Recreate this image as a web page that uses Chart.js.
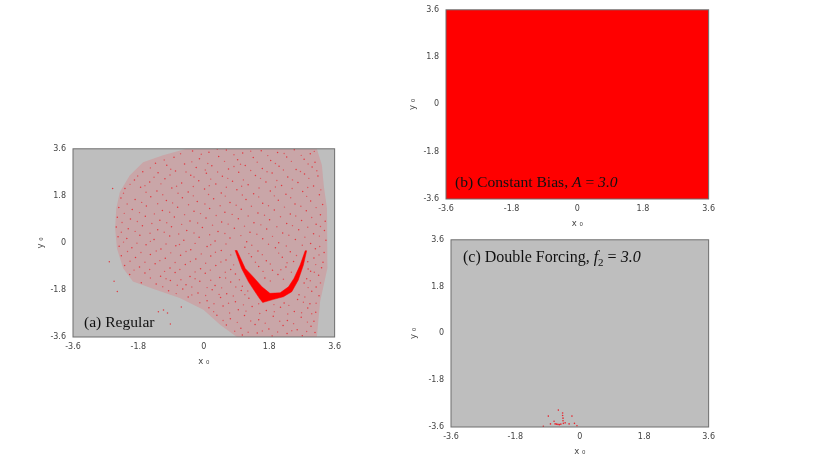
<!DOCTYPE html>
<html>
<head>
<meta charset="utf-8">
<script src="https://cdn.jsdelivr.net/npm/chart.js@4"></script>
<style>
  body { margin: 0; background: #fff; width: 830px; height: 467px; overflow: hidden; position: relative; }
  .box { position: absolute; }
  .tag { position: absolute; font: 15.6px "Liberation Serif", serif; color: #111; white-space: nowrap; line-height: 18px; }
  .tag sub { font-size: 11px; line-height: 0; }
</style>
</head>
<body>
<div class="box" style="left:30px;top:137px;width:316px;height:230px"><canvas id="chartA"></canvas></div>
<div class="box" style="left:402px;top:-2px;width:318px;height:231px"><canvas id="chartB"></canvas></div>
<div class="box" style="left:403px;top:228px;width:317px;height:229px"><canvas id="chartC"></canvas></div>
<div class="tag" style="left:84px;top:313px">(a) Regular</div>
<div class="tag" style="left:455px;top:173px">(b) Constant Bias, <i>A</i> = <i>3.0</i></div>
<div class="tag" style="left:463px;top:248px;font-size:16px">(c) Double Forcing, <i>f</i><sub>2</sub> = <i>3.0</i></div>
<script>
const tickVals = [-3.6, -1.8, 0, 1.8, 3.6];

// outline of the speckled area in (a)
const cloudEdge = [[3.11,3.6],[3.25,2.97],[3.3,2.2],[3.39,1.31],[3.41,0.3],[3.39,-0.97],[3.2,-2.24],[3.11,-3.6],
  [0.91,-3.6],[0.45,-3.13],[-0.01,-2.56],[-0.66,-2.11],[-1.3,-1.8],[-1.95,-1.48],[-2.22,-0.97],[-2.39,-0.21],
  [-2.44,0.55],[-2.41,1.31],[-2.31,1.95],[-2.04,2.58],[-1.67,3.09],[-1.12,3.35],[-0.47,3.6]];

// the dense crescent in (a)
const crescentEdge = [[0.86,-0.28],[1.04,-0.98],[1.23,-1.49],[1.41,-1.87],[1.53,-2.12],[1.62,-2.28],[1.92,-2.16],
  [2.19,-2.06],[2.42,-1.87],[2.6,-1.42],[2.74,-0.85],[2.83,-0.3],[2.79,-0.3],[2.65,-0.85],[2.48,-1.36],
  [2.33,-1.68],[2.1,-1.91],[1.82,-1.93],[1.6,-1.68],[1.36,-1.3],[1.14,-0.98],[0.91,-0.28]];

const speckA = [
  [-0.31,3.52],[0.14,3.47],[0.62,3.55],[1.07,3.44],[1.58,3.53],[2.03,3.46],[2.49,3.56],[2.93,3.41],[-0.82,3.28],[-0.12,3.22],
  [0.41,3.31],[0.93,3.18],[1.36,3.27],[1.84,3.15],[2.28,3.29],[2.76,3.2],[3.06,3.09],[-1.33,3.05],[-1.02,2.97],[-0.53,3.02],
  [-0.21,2.88],[0.22,2.95],[0.68,2.83],[1.14,2.96],[1.61,2.85],[2.07,2.93],[2.54,2.81],[2.98,2.9],[-1.68,2.72],[-1.26,2.68],
  [-0.78,2.75],[-0.36,2.59],[0.07,2.66],[0.51,2.55],[0.96,2.7],[1.42,2.58],[1.88,2.67],[2.31,2.52],[2.77,2.64],[3.14,2.56],
  [-1.91,2.41],[-1.49,2.33],[-1.07,2.45],[-0.61,2.29],[-0.14,2.38],[0.33,2.25],[0.79,2.36],[1.22,2.22],[1.71,2.33],[2.14,2.2],
  [2.59,2.31],[3.02,2.18],[-2.17,2.08],[-1.74,2.13],[-1.29,1.99],[-0.88,2.1],[-0.43,1.95],[0.02,2.06],[0.48,1.91],[0.91,2.03],
  [1.37,1.88],[1.83,1.99],[2.26,1.86],[2.72,1.97],[3.18,1.84],[-2.28,1.72],[-1.89,1.66],[-1.46,1.77],[-1.03,1.62],[-0.59,1.73],
  [-0.18,1.58],[0.27,1.69],[0.72,1.55],[1.16,1.66],[1.62,1.52],[2.05,1.63],[2.51,1.49],[2.94,1.6],[3.27,1.47],[-2.34,1.35],
  [-1.97,1.28],[-1.58,1.41],[-1.14,1.24],[-0.72,1.36],[-0.27,1.21],[0.16,1.32],[0.58,1.17],[1.03,1.29],[1.49,1.14],[1.94,1.26],
  [2.38,1.11],[2.82,1.23],[3.21,1.08],[-2.38,0.98],[-2.02,0.91],[-1.61,1.02],[-1.21,0.87],[-0.81,0.99],[-0.38,0.84],[0.06,0.95],
  [0.49,0.8],[0.95,0.92],[1.38,0.77],[1.81,0.89],[2.28,0.74],[2.69,0.86],[3.09,0.71],[3.34,0.83],[-2.41,0.61],[-2.08,0.54],
  [-1.69,0.66],[-1.27,0.5],[-0.89,0.62],[-0.47,0.47],[-0.04,0.59],[0.39,0.44],[0.84,0.56],[1.27,0.41],[1.73,0.53],[2.17,0.38],
  [2.61,0.5],[3.02,0.35],[3.32,0.47],[-2.36,0.24],[-2.12,0.17],[-1.76,0.29],[-1.37,0.13],[-0.94,0.26],[-0.55,0.1],[-0.13,0.22],
  [0.31,0.07],[0.72,0.19],[1.18,0.04],[1.62,0.16],[2.06,0.01],[2.52,0.13],[2.94,-0.02],[3.36,0.1],[-2.33,-0.13],[-1.98,-0.19],
  [-1.59,-0.07],[-1.18,-0.23],[-0.77,-0.11],[-0.36,-0.26],[0.09,-0.14],[0.48,-0.29],[1.13,-0.17],[1.49,-0.31],[1.97,-0.19],[2.38,-0.34],
  [3.07,-0.22],[3.31,-0.37],[-2.27,-0.49],[-1.88,-0.56],[-1.47,-0.44],[-1.06,-0.59],[-0.64,-0.47],[-0.22,-0.62],[0.19,-0.5],[0.61,-0.65],
  [1.31,-0.53],[1.72,-0.68],[2.16,-0.55],[2.47,-0.71],[3.03,-0.58],[3.28,-0.74],[-2.18,-0.86],[-1.77,-0.92],[-1.34,-0.8],[-0.93,-0.96],
  [-0.51,-0.83],[-0.09,-0.99],[0.33,-0.86],[0.74,-1.02],[1.51,-0.9],[1.89,-1.05],[2.26,-0.92],[2.94,-1.08],[3.24,-0.95],[-2.04,-1.21],
  [-1.62,-1.15],[-1.19,-1.28],[-0.79,-1.13],[-0.38,-1.29],[0.04,-1.16],[0.44,-1.32],[0.87,-1.19],[1.68,-1.34],[2.04,-1.21],[2.83,-1.37],
  [3.16,-1.24],[-1.72,-1.52],[-1.31,-1.57],[-0.92,-1.44],[-0.49,-1.6],[-0.11,-1.47],[0.31,-1.63],[0.74,-1.5],[1.06,-1.66],[2.76,-1.53],
  [3.09,-1.69],[-0.97,-1.83],[-0.58,-1.76],[-0.16,-1.92],[0.23,-1.79],[0.63,-1.95],[1.03,-1.82],[2.62,-1.98],[2.97,-1.85],[3.17,-2.02],
  [-0.43,-2.07],[0.09,-2.21],[0.46,-2.09],[0.87,-2.25],[1.24,-2.12],[2.21,-2.3],[2.58,-2.17],[2.92,-2.33],[0.14,-2.48],[0.53,-2.41],
  [0.95,-2.56],[1.33,-2.43],[1.72,-2.59],[2.11,-2.46],[2.49,-2.62],[2.86,-2.49],[3.08,-2.65],[0.36,-2.77],[0.73,-2.9],[1.12,-2.78],
  [1.51,-2.94],[1.91,-2.81],[2.3,-2.97],[2.68,-2.84],[3.03,-3],[0.62,-3.14],[1.02,-3.27],[1.41,-3.12],[1.79,-3.29],[2.18,-3.16],
  [2.57,-3.32],[2.95,-3.19],[1.06,-3.52],[1.47,-3.45],[1.88,-3.56],[2.29,-3.47],[2.71,-3.55],[3.06,-3.43],
  [-2.51,2.08],[-2.6,-0.72],[-2.47,-1.47],[-2.38,-1.86],[-1.25,-2.63],[-1.11,-2.57],[-1,-2.68],[-0.62,-2.45],[-0.92,-3.1],[2.86,-0.72],[2.87,-1]
];

// second pass of specks, filling between the first
const speckA2 = [
  [-0.07,3.39],[0.37,3.58],[0.83,3.37],[1.29,3.51],[1.76,3.34],[2.21,3.42],[2.68,3.35],[3.04,3.5],[-0.64,3.41],[-1.09,3.17],
  [-0.33,3.1],[0.11,3.04],[0.57,3.12],[1.01,3.01],[1.47,3.09],[1.97,3.04],[2.41,3.12],[2.87,3.02],[-1.47,2.87],[-0.91,2.82],
  [-0.49,2.71],[0.04,2.79],[0.38,2.71],[0.83,2.92],[1.29,2.77],[1.74,2.72],[2.19,2.79],[2.66,2.73],[3.11,2.76],[-1.82,2.56],
  [-1.37,2.51],[-0.93,2.6],[-0.27,2.52],[0.19,2.44],[0.66,2.47],[1.09,2.41],[1.56,2.47],[2.01,2.39],[2.44,2.41],[2.89,2.47],
  [-2.03,2.24],[-1.62,2.19],[-1.18,2.26],[-0.75,2.17],[-0.29,2.16],[0.15,2.19],[0.62,2.13],[1.04,2.17],[1.52,2.1],[1.97,2.14],
  [2.43,2.08],[2.86,2.12],[3.22,2.03],[-2.21,1.9],[-1.59,1.94],[-1.13,1.84],[-0.71,1.9],[-0.29,1.8],[0.13,1.85],[0.59,1.79],
  [1.06,1.83],[1.51,1.76],[1.94,1.8],[2.39,1.73],[2.83,1.78],[-2.11,1.49],[-1.71,1.55],[-1.27,1.5],[-0.86,1.53],[-0.42,1.46],
  [0.03,1.49],[0.45,1.42],[0.89,1.44],[1.31,1.4],[1.78,1.42],[2.22,1.37],[2.67,1.4],[3.09,1.35],[-2.19,1.13],[-1.77,1.16],
  [-1.36,1.11],[-0.94,1.17],[-0.53,1.08],[-0.09,1.12],[0.34,1.05],[0.78,1.09],[1.22,1.03],[1.67,1.06],[2.11,1],[2.53,1.03],
  [2.97,0.97],[-2.25,0.78],[-1.83,0.82],[-1.43,0.74],[-1.02,0.77],[-0.61,0.71],[-0.17,0.76],[0.24,0.68],[0.67,0.72],[1.12,0.64],
  [1.57,0.69],[2.01,0.62],[2.44,0.66],[2.86,0.6],[3.21,0.63],[-2.27,0.41],[-1.89,0.44],[-1.48,0.37],[-1.09,0.41],[-0.69,0.34],
  [-0.27,0.38],[0.16,0.31],[0.58,0.36],[1.02,0.28],[1.46,0.33],[1.89,0.25],[2.34,0.29],[2.78,0.22],[3.18,0.26],[-2.21,0.03],
  [-1.84,-0.01],[-1.47,0.06],[-1.04,-0.04],[-0.67,-0.06],[-0.24,-0.02],[0.19,-0.07],[0.61,-0.04],[1.32,-0.09],[1.78,-0.05],[2.27,-0.12],
  [2.71,-0.09],[3.19,-0.14],[-2.1,-0.33],[-1.73,-0.37],[-1.31,-0.31],[-0.91,-0.38],[-0.49,-0.33],[-0.07,-0.42],[0.32,-0.36],[0.74,-0.46],
  [1.24,-0.41],[1.61,-0.45],[2.06,-0.39],[2.55,-0.48],[3.17,-0.46],[-2.03,-0.7],[-1.62,-0.74],[-1.21,-0.68],[-0.79,-0.75],[-0.37,-0.71],
  [0.05,-0.78],[0.47,-0.73],[0.82,-0.84],[1.42,-0.74],[1.83,-0.81],[2.29,-0.76],[3.08,-0.83],[-1.92,-1.04],[-1.49,-1.02],[-1.08,-1.09],
  [-0.66,-1.02],[-0.24,-1.11],[0.18,-1.04],[0.59,-1.12],[1.63,-1.09],[2.12,-1.03],[2.41,-1.12],[3.04,-1.12],[-1.47,-1.34],[-1.04,-1.37],
  [-0.63,-1.41],[-0.24,-1.37],[0.19,-1.43],[0.6,-1.34],[0.98,-1.41],[1.83,-1.46],[2.19,-1.39],[2.93,-1.45],[-1.13,-1.68],[-0.73,-1.62],
  [-0.33,-1.69],[0.09,-1.71],[0.49,-1.72],[0.88,-1.69],[1.21,-1.84],[2.87,-1.71],[3.21,-1.53],[-0.76,-1.94],[-0.33,-1.99],[0.05,-2.01],
  [0.42,-1.97],[0.81,-2.03],[1.13,-1.98],[2.78,-2.07],[-0.11,-2.29],[0.28,-2.33],[0.68,-2.31],[1.09,-2.37],[1.51,-2.33],[1.93,-2.36],
  [2.34,-2.39],[2.74,-2.27],[3.09,-2.31],[0.27,-2.63],[0.71,-2.68],[1.16,-2.61],[1.54,-2.7],[1.94,-2.63],[2.31,-2.72],[2.69,-2.67],
  [2.97,-2.71],[0.53,-2.97],[0.92,-3.04],[1.29,-2.99],[1.69,-3.07],[2.09,-3],[2.47,-3.09],[2.85,-3.03],[0.85,-3.38],[1.22,-3.42],
  [1.61,-3.37],[2.03,-3.41],[2.42,-3.36],[2.83,-3.39]
];

// what is left of the basin in (c)
const speckC = [[-0.69,-3.48],[-0.65,-3.49],[-0.61,-3.5],[-0.57,-3.51],[-0.53,-3.49],[-0.48,-3.06],[-0.48,-3.16],[-0.47,-3.26],[-0.47,-3.36],[-0.46,-3.46],
  [-0.6,-2.95],[-0.88,-3.18],[-0.22,-3.18],[-0.41,-3.44],[-0.3,-3.48],[-0.15,-3.46],[-0.08,-3.55],[-1.02,-3.57],[-0.82,-3.48],[-0.72,-3.38]];

// (b) is filled right up to the frame
const fullBasin = [[-3.6,-3.6],[3.6,-3.6],[3.6,3.6],[-3.6,3.6]];

const plotFrame = {
  id: 'plotFrame',
  beforeDatasetsDraw(chart) {
    const a = chart.chartArea, c = chart.ctx;
    c.save();
    c.fillStyle = '#bebebe';
    c.fillRect(a.left, a.top, a.width, a.height);
    c.restore();
  },
  afterDatasetsDraw(chart) {
    const a = chart.chartArea, c = chart.ctx;
    c.save();
    c.strokeStyle = '#6e6e6e';
    c.lineWidth = 1;
    c.strokeRect(a.left, a.top, a.width, a.height);
    c.restore();
  }
};

function axis(title, isX, room) {
  return {
    type: 'linear',
    min: -3.6,
    max: 3.6,
    afterBuildTicks: s => { s.ticks = tickVals.map(v => ({ value: v })); },
    afterFit: s => { if (isX) s.height = room; else s.width = room; },
    grid: { display: false, drawTicks: false },
    border: { display: false },
    ticks: {
      autoSkip: false, maxRotation: 0, padding: isX ? 5 : 7, color: '#444',
      font: { family: 'DejaVu Sans', size: 8 },
      callback: v => String(v)
    },
    title: { display: true, text: title, color: '#444', font: { family: 'DejaVu Sans', size: 8.5 }, padding: { top: 6, bottom: 0 } }
  };
}

function makeChart(id, datasets, yRoom, pad) {
  return new Chart(document.getElementById(id), {
    type: 'scatter',
    data: { datasets: datasets },
    options: {
      responsive: true,
      maintainAspectRatio: false,
      animation: false,
      layout: { padding: pad },
      plugins: { legend: { display: false }, tooltip: { enabled: false } },
      scales: { x: axis('x ₀', true, 30), y: axis('y ₀', false, yRoom) }
    },
    plugins: [plotFrame]
  });
}

const toXY = p => ({ x: p[0], y: p[1] });

makeChart('chartA', [
  { data: crescentEdge.map(toXY), showLine: true, fill: 'shape', backgroundColor: '#f00', borderColor: '#f00', borderWidth: 0.5, pointRadius: 0 },
  { data: speckA.map(toXY), backgroundColor: 'rgba(235,20,30,.75)', pointRadius: 0.75, borderWidth: 0 },
  { data: speckA2.map(toXY), backgroundColor: 'rgba(235,20,30,.55)', pointRadius: 0.7, borderWidth: 0 },
  { data: cloudEdge.map(toXY), showLine: true, fill: 'shape', backgroundColor: 'rgba(255,50,60,.17)', borderWidth: 0, pointRadius: 0 }
], 43, { top: 9, right: 10.5 });

makeChart('chartB', [
  { data: fullBasin.map(toXY), showLine: true, fill: 'shape', backgroundColor: '#f00', borderWidth: 0, pointRadius: 0 }
], 44, { top: 7, right: 10.5 });

makeChart('chartC', [
  { data: speckC.map(toXY), backgroundColor: 'rgba(235,20,30,.9)', pointRadius: 0.8, borderWidth: 0 }
], 48, { top: 9, right: 10.5 });
</script>
</body>
</html>
